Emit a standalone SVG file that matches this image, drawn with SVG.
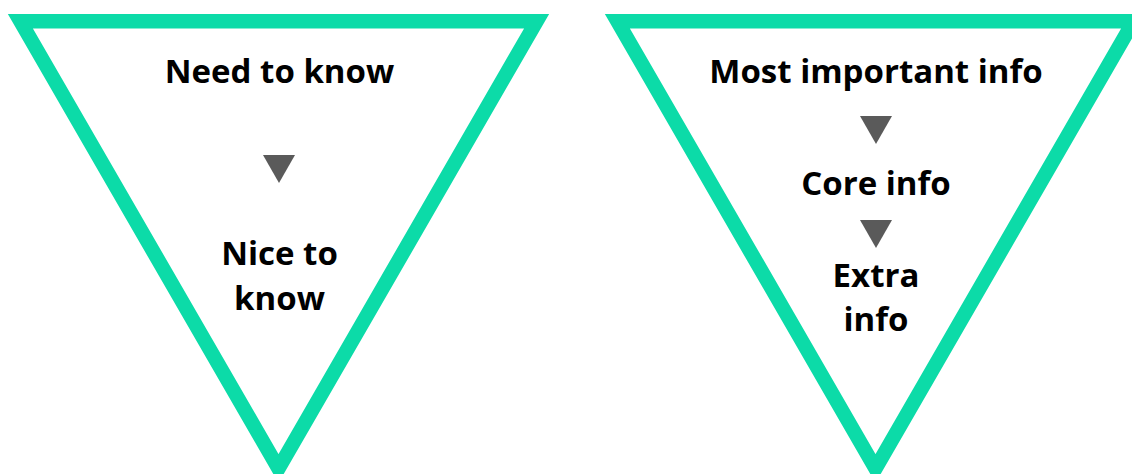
<svg xmlns="http://www.w3.org/2000/svg" width="1132" height="474" viewBox="0 0 1132 474">
<style>
.frame{fill:none;stroke:#0cdba8;stroke-width:14.5;stroke-linejoin:miter}
.t{font-family:"Open Sans","Liberation Sans",sans-serif;font-weight:bold;font-size:33px;fill:#000;text-anchor:middle}
.arr{fill:#5a5a5a}
</style>
<rect width="1132" height="474" fill="#fff"/>
<g id="left-funnel">
<polygon class="frame" points="20.4,21.25 536.6,21.25 278.5,468.5"/>
<text class="t" x="279.5" y="83">Need to know</text>
<text class="t" x="279.5" y="265">Nice to</text>
<text class="t" x="279.5" y="310">know</text>
</g>
<g id="right-funnel">
<polygon class="frame" points="617.4,21.25 1133.6,21.25 875.5,468.5"/>
<text class="t" x="876" y="83">Most important info</text>
<text class="t" x="876" y="195">Core info</text>
<text class="t" x="876" y="287">Extra</text>
<text class="t" x="876" y="331">info</text>
</g>
<g id="connectors">
<polygon class="arr" points="263,155 295,155 279,183"/>
<polygon class="arr" points="860,116 892,116 876,144"/>
<polygon class="arr" points="860,220 892,220 876,248"/>
</g>
</svg>
